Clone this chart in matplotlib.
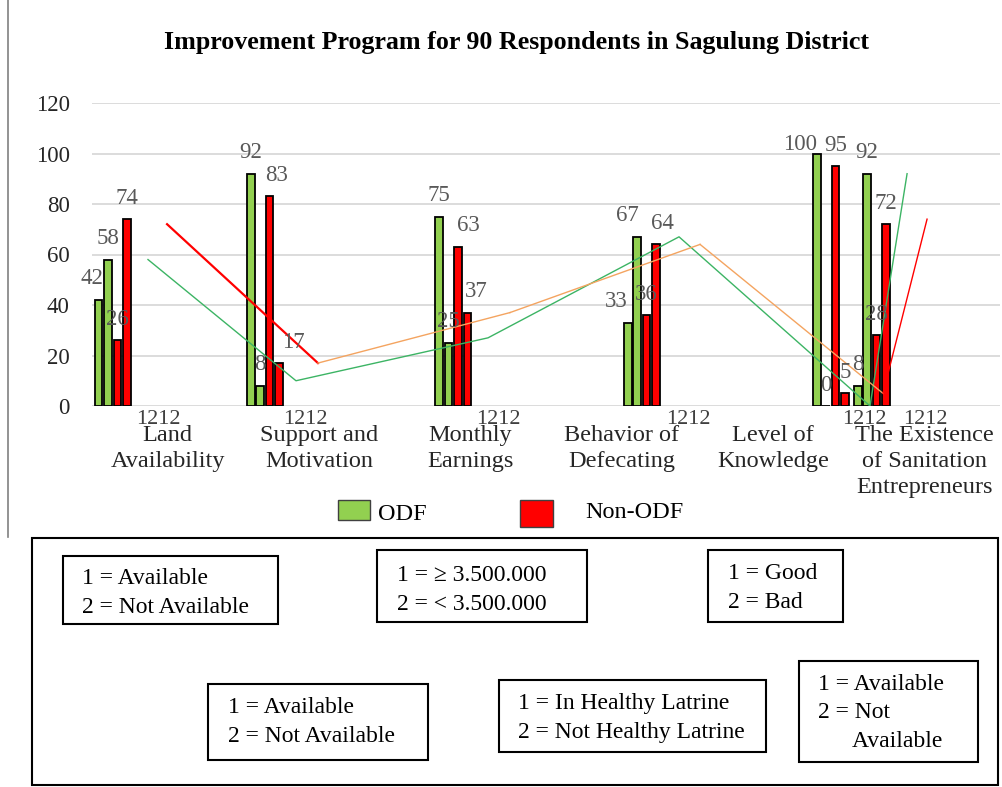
import matplotlib
matplotlib.use("Agg")
import matplotlib.pyplot as plt
from matplotlib.patches import Rectangle
from matplotlib.lines import Line2D

# ---------------- data ----------------
categories = ["Land\nAvailability", "Support and\nMotivation", "Monthly\nEarnings",
              "Behavior of\nDefecating", "Level of\nKnowledge",
              "The Existence\nof Sanitation\nEntrepreneurs"]
odf_1 = [42, 92, 75, 33, 100, 8]
odf_2 = [58, 8, 25, 67, 0, 92]
non_odf_1 = [26, 83, 63, 36, 95, 28]
non_odf_2 = [74, 17, 37, 64, 5, 72]
odf_line = [58, 10, 27, 67, 0, 92]
non_odf_line = [72, 17, 37, 64, 5, 74]
sub_labels = ["1212", "1212", "1212", "1212", "1212", "1212"]
y_ticks = [0, 20, 40, 60, 80, 100, 120]
legend_labels = ["ODF", "Non-ODF"]
title = "Improvement Program for 90 Respondents in Sagulung District"
key_texts = [
    "1 = Available\n2 = Not Available",
    "1 = \u2265 3.500.000\n2 = < 3.500.000",
    "1 = Good\n2 = Bad",
    "1 = Available\n2 = Not Available",
    "1 = In Healthy Latrine\n2 = Not Healthy Latrine",
    "1 = Available\n2 = Not\n      Available",
]

# ---------------- style / layout ----------------
W, H = 1003, 787
FONT = "Liberation Serif"
plt.rcParams["font.family"] = [FONT, "DejaVu Serif"]
GREEN = "#92D050"
RED = "#FF0000"
LGREEN = "#3CB464"
ORANGE = "#F4A460"
LBL = "#595959"

fig = plt.figure(figsize=(W / 100, H / 100), dpi=100)

def fx(px):
    return px / W

def fy(py):
    return 1 - py / H

ax = fig.add_axes([fx(92), fy(406), (1000 - 92) / W, (406 - 103) / H])
ax.set_xlim(0, 6)
ax.set_ylim(0, 120)
for s in ax.spines.values():
    s.set_visible(False)
ax.set_yticks(y_ticks)
ax.yaxis.grid(True, color="#D9D9D9", lw=1.3, zorder=0)
ax.set_axisbelow(True)
ax.tick_params(axis="y", length=0, pad=16, labelsize=16.5, labelcolor="#262626")
ax.set_xticks([i + 0.5 for i in range(len(categories))])
ax.set_xticklabels(categories, fontsize=17.5, color="#262626", linespacing=1.3)
ax.tick_params(axis="x", length=0, pad=14)

# positions of bar groups (left edge, category units) and bar geometry
group_start = [0.013, 1.018, 2.263, 3.509, 4.758, 5.029]
step = 0.0621
bw = 0.050
series = [odf_1, odf_2, non_odf_1, non_odf_2]
colors = [GREEN, GREEN, RED, RED]
# label offsets in px (dx, dy extra)
dx_px = [[-7, 0, 0, 0], [0, 0, 7, 14], [0, 0, 10, 9],
         [-11, -10, 0, 7], [-17, 0, 0, 0], [0, 0, 0, 0]]
dy_px = [[0, 0, 0, 0], [0, 0, 0, 0], [0, 0, 0, 0],
         [0, 0, 0, 0], [-12, 0, 0, 0], [0, 0, 0, 0]]

for k, (vals, col) in enumerate(zip(series, colors)):
    xs = [g + (k + 0.5) * step for g in group_start]
    ax.bar(xs, vals, width=bw, color=col, edgecolor="black", lw=1.3, zorder=2)
    for i, (x, v) in enumerate(zip(xs, vals)):
        ax.annotate(str(v), xy=(x, v), xytext=(dx_px[i][k] / 1.389, (21 + dy_px[i][k]) / 1.389),
                    textcoords="offset points", ha="center", va="center",
                    fontsize=16.5, color=LBL, zorder=4, annotation_clip=False)

# lines
odf_line_x = [0.370, 1.348, 2.617, 3.879, 5.141, 5.386]
non_line_x = [0.496, 1.493, 2.762, 4.018, 5.227, 5.518]
ax.plot(odf_line_x, odf_line, color=LGREEN, lw=1.0, zorder=3)
seg_col = [RED, ORANGE, ORANGE, ORANGE, RED]
seg_lw = [1.6, 1.0, 1.0, 1.0, 1.0]
for i in range(len(non_line_x) - 1):
    ax.plot(non_line_x[i:i + 2], non_odf_line[i:i + 2], color=seg_col[i], lw=seg_lw[i], zorder=3)

# secondary category labels
sub_x = [0.436, 1.408, 2.683, 3.938, 5.101, 5.504]
for x, t in zip(sub_x, sub_labels):
    ax.annotate(t, xy=(x, 0), xytext=(0, -10), textcoords="offset points",
                ha="center", va="center", fontsize=16, color="#404040",
                annotation_clip=False)

# title
fig.text(fx(517), fy(42), title, ha="center", va="center", fontsize=18.7,
         fontweight="bold", color="black")

# left border line of chart area
fig.add_artist(Line2D([fx(8), fx(8)], [fy(0), fy(537)], color="#808080", lw=1.2))

# legend
fig.add_artist(Rectangle((fx(338), fy(520)), 32 / W, 20 / H, transform=fig.transFigure,
                         facecolor=GREEN, edgecolor="#404040", lw=1.0))
fig.text(fx(378), fy(515), legend_labels[0], ha="left", va="center", fontsize=17.5)
fig.add_artist(Rectangle((fx(520), fy(527)), 33 / W, 27 / H, transform=fig.transFigure,
                         facecolor=RED, edgecolor="#404040", lw=1.0))
fig.text(fx(585), fy(512), legend_labels[1], ha="left", va="center", fontsize=17.5)

# key box
fig.add_artist(Rectangle((fx(32), fy(785)), (998 - 32) / W, (785 - 538) / H,
                         transform=fig.transFigure, facecolor="none",
                         edgecolor="black", lw=1.5))
boxes = [(63, 556, 278, 624), (377, 550, 587, 622), (708, 550, 843, 622),
         (208, 684, 428, 760), (499, 680, 766, 752), (799, 661, 978, 762)]
text_pos = [(82, 593), (397, 590), (728, 588), (228, 722), (518, 718), (818, 713)]
for (x0, y0, x1, y1), (tx, ty), t in zip(boxes, text_pos, key_texts):
    fig.add_artist(Rectangle((fx(x0), fy(y1)), (x1 - x0) / W, (y1 - y0) / H,
                             transform=fig.transFigure, facecolor="none",
                             edgecolor="black", lw=1.5))
    fig.text(fx(tx), fy(ty), t, ha="left", va="center", fontsize=17,
             linespacing=1.45, color="black")

fig.savefig("out.png", dpi=100)
